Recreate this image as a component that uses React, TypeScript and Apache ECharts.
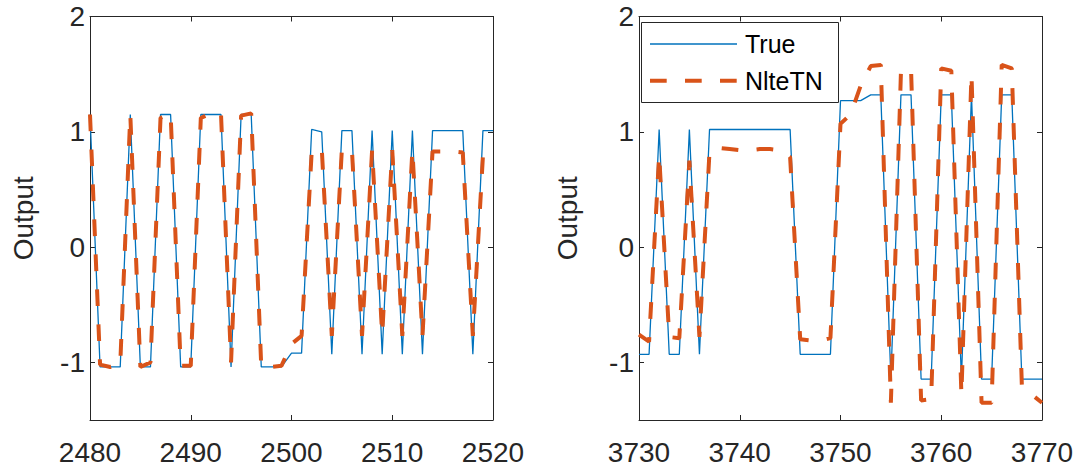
import React, { useEffect, useRef } from "react";
import * as echarts from "echarts";

// ---- Data ----
const leftX = [
  2480, 2481, 2482, 2483, 2484, 2485, 2486, 2487, 2488, 2489, 2490, 2491, 2492, 2493,
  2494, 2495, 2496, 2497, 2498, 2499, 2500, 2501, 2502, 2503, 2504, 2505, 2506, 2507,
  2508, 2509, 2510, 2511, 2512, 2513, 2514, 2515, 2516, 2517, 2518, 2519, 2520,
];
const leftTrue = [
  1.15, -1.04, -1.04, -1.04, 1.15, -1.04, -1.04, 1.15, 1.15, -1.04, -1.04, 1.15, 1.15, 1.15,
  -1.04, 1.15, 1.15, -1.04, -1.04, -1.04, -0.92, -0.92, 1.02, 1.0, -0.93, 1.01, 1.01, -0.93,
  1.01, -0.93, 1.01, -0.93, 1.01, -0.93, 1.01, 1.01, 1.01, 1.01, -0.93, 1.01, 1.01,
];
const leftNlteTN = [
  1.15, -1.02, -1.04, -1.02, 1.15, -1.04, -1.0, 1.12, 1.16, -1.03, -1.03, 1.12, 1.16, 1.16,
  -1.0, 1.14, 1.16, -1.04, -1.04, -1.03, -0.84, -0.77, 0.82, 0.86, -0.77, 0.85, 0.84, -0.77,
  0.84, -0.76, 0.84, -0.77, 0.84, -0.77, 0.83, 0.83, 0.83, 0.82, -0.77, 0.79, 0.84,
];

const rightX = [
  3730, 3731, 3732, 3733, 3734, 3735, 3736, 3737, 3738, 3739, 3740, 3741, 3742, 3743,
  3744, 3745, 3746, 3747, 3748, 3749, 3750, 3751, 3752, 3753, 3754, 3755, 3756, 3757,
  3758, 3759, 3760, 3761, 3762, 3763, 3764, 3765, 3766, 3767, 3768, 3769, 3770,
];
const rightTrue = [
  -0.93, -0.93, 1.02, -0.93, -0.93, 1.02, -0.93, 1.02, 1.02, 1.02, 1.02, 1.02, 1.02, 1.02,
  1.02, 1.02, -0.93, -0.93, -0.93, -0.93, 1.27, 1.27, 1.27, 1.32, 1.32, -1.145, 1.32, 1.32,
  -1.145, -1.145, 1.32, 1.32, -1.145, 1.32, -1.145, -1.145, 1.32, 1.32, -1.145, -1.145, -1.145,
];
const rightNlteTN = [
  -0.76, -0.82, 0.8, -0.78, -0.79, 0.75, -0.78, 0.83, 0.86, 0.85, 0.84, 0.84, 0.85, 0.85,
  0.84, 0.78, -0.8, -0.81, -0.81, -0.79, 1.07, 1.15, 1.4, 1.57, 1.58, -1.35, 1.52, 1.55,
  -1.33, -1.32, 1.55, 1.53, -1.28, 1.5, -1.35, -1.35, 1.58, 1.55, -1.2, -1.28, -1.35,
];

const yTicks = [-1, 0, 1, 2];
const leftXTicks = [2480, 2490, 2500, 2510, 2520];
const rightXTicks = [3730, 3740, 3750, 3760, 3770];
const seriesNames = ["True", "NlteTN"];
const yAxisName = "Output";

const AXIS_COLOR = "#262626";
const BLUE = "#0072BD";
const ORANGE = "#D95319";
const FONT = "'Liberation Sans', Arial, Helvetica, sans-serif";
const DASH = [16.7, 18.3];

const pairs = (xs: number[], ys: number[]) => xs.map((x, i) => [x, ys[i]]);

export default function App() {
  const ref = useRef<HTMLDivElement>(null);

  useEffect(() => {
    if (!ref.current) return;
    const chart = echarts.init(ref.current, null, { renderer: "svg" });

    const grids = [
      { left: 90, top: 16.5, width: 403, height: 403.5 },
      { left: 639, top: 16.5, width: 403, height: 403.5 },
    ];
    const xRanges = [
      { min: leftX[0], max: leftX[leftX.length - 1], ticks: leftXTicks },
      { min: rightX[0], max: rightX[rightX.length - 1], ticks: rightXTicks },
    ];

    const xAxes: any[] = [];
    const yAxes: any[] = [];
    const axisLine = { show: true, onZero: false, lineStyle: { color: AXIS_COLOR, width: 1 } };
    const tick = (vals: number[]) => ({
      show: true,
      inside: true,
      length: 5,
      customValues: vals,
      lineStyle: { color: AXIS_COLOR },
    });
    [0, 1].forEach((g) => {
      const r = xRanges[g];
      xAxes.push({
        type: "value",
        gridIndex: g,
        position: "bottom",
        min: r.min,
        max: r.max,
        axisLine,
        axisTick: tick(r.ticks),
        axisLabel: {
          show: true,
          customValues: r.ticks,
          formatter: (v: number) => String(v),
          margin: 18,
          fontSize: 28,
          fontFamily: FONT,
          color: AXIS_COLOR,
        },
        splitLine: { show: false },
      });
      xAxes.push({
        type: "value",
        gridIndex: g,
        position: "top",
        min: r.min,
        max: r.max,
        axisLine,
        axisTick: tick(r.ticks),
        axisLabel: { show: false },
        splitLine: { show: false },
      });
      yAxes.push({
        type: "value",
        gridIndex: g,
        position: "left",
        min: -1.5,
        max: 2,
        name: yAxisName,
        nameLocation: "middle",
        nameGap: g === 0 ? 53 : 58,
        nameTextStyle: { fontSize: 28, fontFamily: FONT, color: AXIS_COLOR },
        axisLine,
        axisTick: tick(yTicks),
        axisLabel: {
          show: true,
          customValues: yTicks,
          formatter: (v: number) => String(v),
          margin: 5,
          fontSize: 28,
          fontFamily: FONT,
          color: AXIS_COLOR,
        },
        splitLine: { show: false },
      });
      yAxes.push({
        type: "value",
        gridIndex: g,
        position: "right",
        min: -1.5,
        max: 2,
        axisLine,
        axisTick: tick(yTicks),
        axisLabel: { show: false },
        splitLine: { show: false },
      });
    });

    const trueStyle = { color: BLUE, width: 1.3 };
    const nlStyle = { color: ORANGE, width: 4, type: DASH as any, cap: "butt" as const };

    const mk = (name: string, g: number, data: number[][], ls: any, z: number) => ({
      type: "line",
      name,
      xAxisIndex: g * 2,
      yAxisIndex: g * 2,
      data,
      symbol: "none",
      showSymbol: false,
      lineStyle: ls,
      itemStyle: { color: ls.color },
      z,
      silent: true,
    });

    // Legend box (drawn as graphic for exact MATLAB-like layout)
    const lgX = 641.5;
    const lgY = 22.5;
    const row1 = 44;
    const row2 = 80.7;
    const legendGraphic = [
      {
        type: "rect",
        z: 100,
        shape: { x: lgX, y: lgY, width: 197, height: 80 },
        style: { fill: "#ffffff", stroke: AXIS_COLOR, lineWidth: 1 },
      },
      {
        type: "line",
        z: 101,
        shape: { x1: 650, y1: row1, x2: 737, y2: row1 },
        style: { stroke: BLUE, lineWidth: 1.3 },
      },
      {
        type: "text",
        z: 101,
        x: 745,
        y: row1,
        style: {
          text: seriesNames[0],
          fontSize: 25,
          fontFamily: FONT,
          fill: "#000",
          verticalAlign: "middle",
          align: "left",
        },
      },
      {
        type: "line",
        z: 101,
        shape: { x1: 650, y1: row2, x2: 737, y2: row2 },
        style: { stroke: ORANGE, lineWidth: 4, lineDash: DASH, lineCap: "butt" },
      },
      {
        type: "text",
        z: 101,
        x: 745,
        y: row2,
        style: {
          text: seriesNames[1],
          fontSize: 25,
          fontFamily: FONT,
          fill: "#000",
          verticalAlign: "middle",
          align: "left",
        },
      },
    ];

    chart.setOption({
      animation: false,
      backgroundColor: "#ffffff",
      grid: grids,
      xAxis: xAxes,
      yAxis: yAxes,
      graphic: legendGraphic,
      series: [
        mk(seriesNames[0], 0, pairs(leftX, leftTrue), trueStyle, 2),
        mk(seriesNames[1], 0, pairs(leftX, leftNlteTN), nlStyle, 3),
        mk(seriesNames[0], 1, pairs(rightX, rightTrue), trueStyle, 2),
        mk(seriesNames[1], 1, pairs(rightX, rightNlteTN), nlStyle, 3),
      ],
    });

    return () => chart.dispose();
  }, []);

  return (
    <div
      ref={ref}
      style={{ position: "fixed", left: 0, top: 0, width: 1078, height: 469, background: "#fff" }}
    />
  );
}
